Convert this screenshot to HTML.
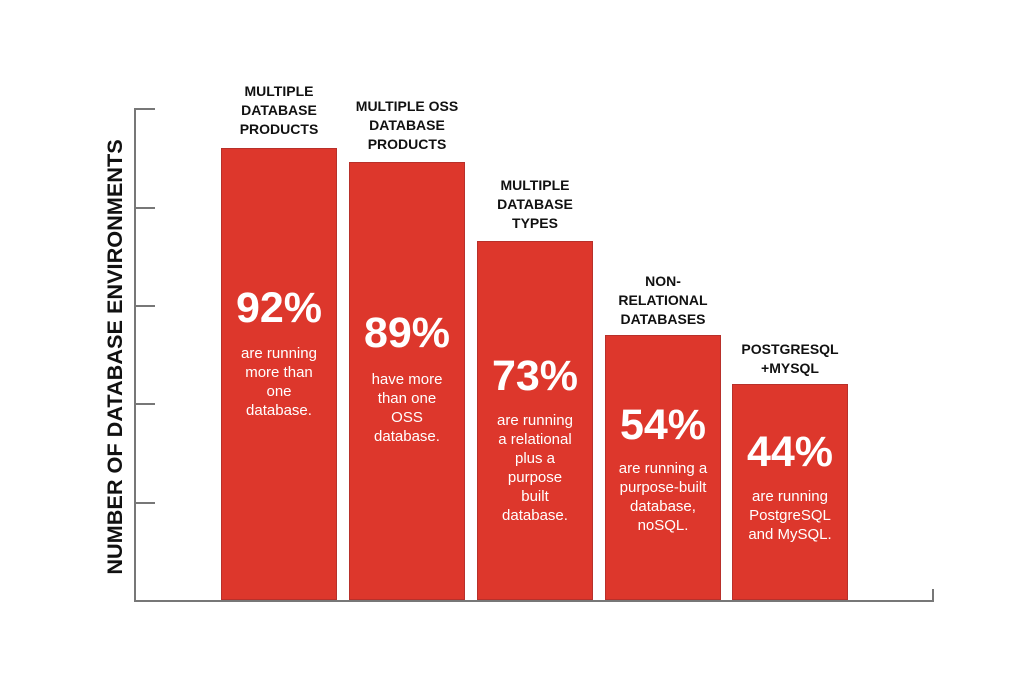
<!DOCTYPE html>
<html><head><meta charset="utf-8"><style>
body{margin:0;width:1024px;height:679px;background:#fff;position:relative;overflow:hidden;font-family:"Liberation Sans",sans-serif}
.ax{position:absolute;background:#777}
.bar{position:absolute;background:#dd372c;border:1px solid #b8302a;box-sizing:border-box;width:116px;bottom:79px}
.lbl{position:absolute;width:140px;text-align:center;font-weight:bold;font-size:14px;line-height:19px;color:#111}
.pct{position:absolute;width:116px;text-align:center;color:#fff;font-weight:bold;font-size:43px;line-height:44px}
.sub{position:absolute;width:116px;text-align:center;color:#fff;font-size:15px;line-height:19px}
.yl{position:absolute;left:115px;top:357px;transform:translate(-50%,-50%) rotate(-90deg);white-space:nowrap;font-weight:bold;font-size:21.7px;color:#111}
</style></head><body>
<div class="ax" style="left:134px;top:108px;width:1.5px;height:493px"></div>
<div class="ax" style="left:134px;top:600px;width:800px;height:1.5px"></div>
<div class="ax" style="left:932px;top:589px;width:1.5px;height:12px"></div>
<div class="ax" style="left:134px;top:108px;width:21px;height:1.5px"></div>
<div class="ax" style="left:134px;top:207px;width:21px;height:1.5px"></div>
<div class="ax" style="left:134px;top:305px;width:21px;height:1.5px"></div>
<div class="ax" style="left:134px;top:403px;width:21px;height:1.5px"></div>
<div class="ax" style="left:134px;top:502px;width:21px;height:1.5px"></div>
<div class="yl">NUMBER OF DATABASE ENVIRONMENTS</div>

<div class="bar" style="left:221px;top:148px"></div>
<div class="bar" style="left:349px;top:162px"></div>
<div class="bar" style="left:477px;top:241px"></div>
<div class="bar" style="left:605px;top:335px"></div>
<div class="bar" style="left:732px;top:384px"></div>

<div class="lbl" style="left:209px;top:82px">MULTIPLE<br>DATABASE<br>PRODUCTS</div>
<div class="lbl" style="left:337px;top:97px">MULTIPLE OSS<br>DATABASE<br>PRODUCTS</div>
<div class="lbl" style="left:465px;top:176px">MULTIPLE<br>DATABASE<br>TYPES</div>
<div class="lbl" style="left:593px;top:272px">NON-<br>RELATIONAL<br>DATABASES</div>
<div class="lbl" style="left:720px;top:340px">POSTGRESQL<br>+MYSQL</div>

<div class="pct" style="left:221px;top:286px">92%</div>
<div class="sub" style="left:221px;top:344px">are running<br>more than<br>one<br>database.</div>
<div class="pct" style="left:349px;top:311px">89%</div>
<div class="sub" style="left:349px;top:370px">have more<br>than one<br>OSS<br>database.</div>
<div class="pct" style="left:477px;top:354px">73%</div>
<div class="sub" style="left:477px;top:411px">are running<br>a relational<br>plus a<br>purpose<br>built<br>database.</div>
<div class="pct" style="left:605px;top:403px">54%</div>
<div class="sub" style="left:605px;top:459px">are running a<br>purpose-built<br>database,<br>noSQL.</div>
<div class="pct" style="left:732px;top:430px">44%</div>
<div class="sub" style="left:732px;top:487px">are running<br>PostgreSQL<br>and MySQL.</div>
</body></html>
